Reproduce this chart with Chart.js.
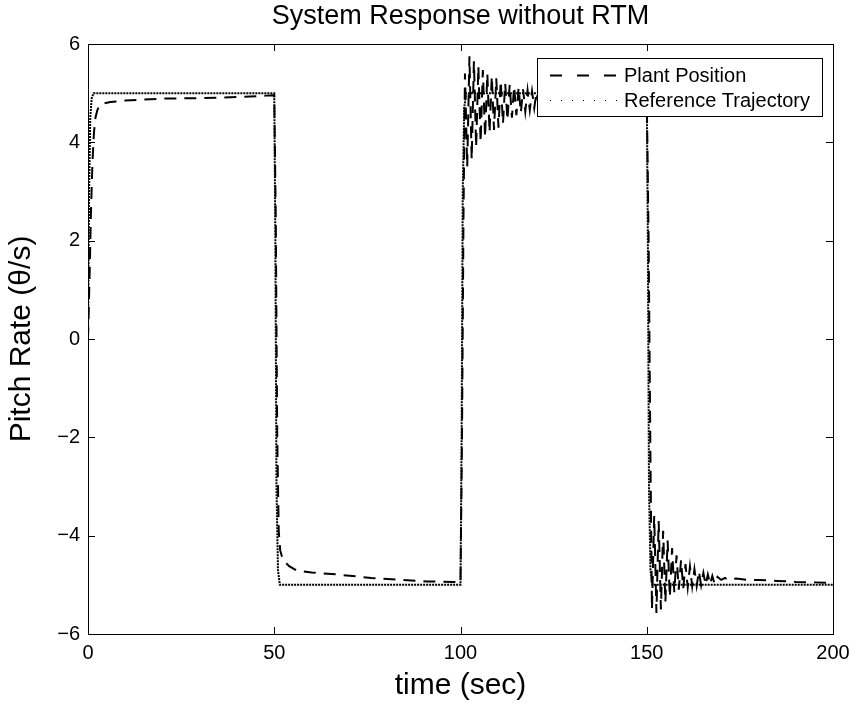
<!DOCTYPE html>
<html>
<head>
<meta charset="utf-8">
<script src="https://cdn.jsdelivr.net/npm/chart.js@4.4.1/dist/chart.umd.min.js"></script>
<style>
html,body{margin:0;padding:0;background:#fff;}
#wrap{width:857px;height:708px;}
</style>
</head>
<body>
<div id="wrap"><canvas id="c" width="857" height="708"></canvas></div>
<script>
// ---- data ----
const titleText = 'System Response without RTM';
const xTitle = 'time (sec)';
const yTitle = 'Pitch Rate (\u03b8/s)';
const seriesNames = ['Plant Position', 'Reference Trajectory'];
const xTicks = [0, 50, 100, 150, 200];
const yTicks = [-6, -4, -2, 0, 2, 4, 6];
const yTickLabels = ['\u22126', '\u22124', '\u22122', '0', '2', '4', '6'];

// Plant Position (time, value)
const plantT = [
  0, 0.4, 0.8, 1.2, 1.6, 2, 2.5, 3, 4, 6, 10, 15, 20, 30, 40, 48, 50,
  50.4, 50.8, 51.2, 51.6, 52.3, 54, 56, 60, 67, 76, 84, 91, 98, 100,
  100.4, 100.8, 101.2, 101.8, 102.4, 103.0, 103.6, 104.2, 104.8, 105.4, 106.0, 106.6,
  107.2, 107.8, 108.4, 109.0, 109.6, 110.2, 110.8, 111.4, 112.0, 112.6, 113.2, 113.8,
  114.4, 115.0, 115.6, 116.2, 116.8, 117.4, 118.0, 118.6, 119.2, 119.8, 120.4, 121.0,
  121.6, 122.2, 123, 124, 126, 130, 140, 150,
  150.5, 151.0, 151.4, 152.0, 152.6, 153.2, 153.8, 154.4, 155.0, 155.6, 156.2, 156.8,
  157.4, 158.0, 158.6, 159.2, 159.8, 160.4, 161.0, 161.6, 162.2, 162.8, 163.4, 164.0,
  164.6, 165.2, 165.8, 166.4, 167.0, 167.6, 168.2, 169, 170, 171, 172, 174, 177, 180,
  185, 190, 195, 200
];
const plantY = [
  0, 1.2, 2.6, 3.6, 4.2, 4.5, 4.65, 4.74, 4.79, 4.82, 4.85, 4.87, 4.89, 4.9, 4.92, 4.95, 4.96,
  2.5, -2.0, -3.9, -4.3, -4.49, -4.62, -4.71, -4.75, -4.79, -4.86, -4.9, -4.93, -4.94, -4.95,
  -2.0, 2.5, 5.4, 3.5, 5.75, 3.65, 5.65, 3.9, 5.55, 4.0, 5.47, 4.1,
  5.4, 4.2, 5.35, 4.25, 5.3, 4.3, 5.25, 4.38, 5.2, 4.45, 5.17, 4.5,
  5.14, 4.55, 5.11, 4.6, 5.08, 4.63, 5.06, 4.66, 5.04, 4.7, 5.02, 4.75,
  5.0, 4.8, 4.95, 4.85, 4.92, 4.9, 4.93, 4.95,
  2.0, -2.5, -5.5, -3.6, -5.57, -3.7, -5.5, -3.9, -5.35, -4.1, -5.25, -4.25,
  -5.15, -4.4, -5.1, -4.5, -5.07, -4.58, -5.05, -4.63, -5.03, -4.68, -5.02, -4.72,
  -5.01, -4.76, -5.0, -4.79, -4.99, -4.82, -4.98, -4.84, -4.9, -4.86, -4.9, -4.87, -4.9, -4.9,
  -4.92, -4.94, -4.95, -4.96
];

// Reference Trajectory (time, value)
const refT = [0, 0.3, 0.6, 1.0, 1.5, 50, 50.3, 50.6, 51.0, 51.5, 100, 100.3, 100.6, 101.0, 101.5,
  150, 150.3, 150.6, 151.0, 151.5, 200];
const refY = [0, 3.0, 4.5, 4.9, 5.0, 5.0, 2.0, -3.0, -4.7, -5.0, -5.0, -2.0, 3.0, 4.7, 5.0,
  5.0, 2.0, -3.0, -4.7, -5.0, -5.0];

const toXY = (ts, ys) => ts.map((t, i) => ({x: t, y: ys[i]}));

const FONT = '"Liberation Sans", Arial, sans-serif';

// ---- title, frame, inward ticks and legend ----
const framePlugin = {
  id: 'frame',
  afterDatasetsDraw(chart) {
    const ctx = chart.ctx;
    const a = chart.chartArea;
    const xs = chart.scales.x, ys = chart.scales.y;
    const tl = 7;
    ctx.save();
    ctx.strokeStyle = '#000';
    ctx.lineWidth = 1;
    ctx.setLineDash([]);
    ctx.beginPath();
    xTicks.forEach(v => {
      const p = Math.round(xs.getPixelForValue(v)) + 0.5;
      ctx.moveTo(p, a.bottom); ctx.lineTo(p, a.bottom - tl);
      ctx.moveTo(p, a.top); ctx.lineTo(p, a.top + tl);
    });
    yTicks.forEach(v => {
      const p = Math.round(ys.getPixelForValue(v)) + 0.5;
      ctx.moveTo(a.left, p); ctx.lineTo(a.left + tl, p);
      ctx.moveTo(a.right, p); ctx.lineTo(a.right - tl, p);
    });
    ctx.stroke();
    ctx.strokeRect(Math.round(a.left) + 0.5, Math.round(a.top) + 0.5,
      Math.round(a.right - a.left), Math.round(a.bottom - a.top));

    // title centred over the plot area
    ctx.fillStyle = '#000';
    ctx.font = '27px ' + FONT;
    ctx.textAlign = 'center';
    ctx.textBaseline = 'middle';
    ctx.fillText(titleText, (a.left + a.right) / 2, 17);

    // legend box
    const bx = 537, by = 58, bw = 285, bh = 58;
    ctx.fillStyle = '#fff';
    ctx.fillRect(bx, by, bw, bh);
    ctx.strokeRect(bx + 0.5, by + 0.5, bw, bh);
    const rows = [75, 100];
    ctx.lineWidth = 2;
    ctx.setLineDash([12, 15]);
    ctx.beginPath(); ctx.moveTo(550, rows[0] + 0.5); ctx.lineTo(617, rows[0] + 0.5); ctx.stroke();
    ctx.lineWidth = 1;
    ctx.setLineDash([1, 10]);
    ctx.beginPath(); ctx.moveTo(550, rows[1] + 0.5); ctx.lineTo(617, rows[1] + 0.5); ctx.stroke();
    ctx.setLineDash([]);
    ctx.fillStyle = '#000';
    ctx.font = '20px ' + FONT;
    ctx.textAlign = 'left';
    ctx.textBaseline = 'middle';
    ctx.fillText(seriesNames[0], 624, rows[0] + 1);
    ctx.fillText(seriesNames[1], 624, rows[1] + 1);
    ctx.restore();
  }
};

new Chart(document.getElementById('c'), {
  type: 'line',
  data: {
    datasets: [
      {
        label: seriesNames[0],
        data: toXY(plantT, plantY),
        borderColor: '#000',
        borderWidth: 2,
        borderDash: [12, 8],
        pointRadius: 0,
        tension: 0,
        fill: false
      },
      {
        label: seriesNames[1],
        data: toXY(refT, refY),
        borderColor: '#000',
        borderWidth: 2,
        borderDash: [2, 1],
        pointRadius: 0,
        tension: 0,
        fill: false
      }
    ]
  },
  options: {
    responsive: false,
    animation: false,
    devicePixelRatio: 1,
    layout: {padding: {left: 0, right: 24, top: 44, bottom: 0}},
    plugins: {
      legend: {display: false},
      tooltip: {enabled: false},
      title: {display: false}
    },
    scales: {
      x: {
        type: 'linear',
        min: 0, max: 200,
        afterBuildTicks: s => { s.ticks = xTicks.map(v => ({value: v})); },
        afterFit: s => { s.height = 74; },
        grid: {display: false, drawTicks: false},
        border: {display: false},
        ticks: {color: '#000', font: {family: FONT, size: 20}, padding: 7, maxRotation: 0},
        title: {display: true, text: xTitle, color: '#000', font: {family: FONT, size: 30}, padding: {top: 0, bottom: 4}}
      },
      y: {
        type: 'linear',
        min: -6, max: 6,
        afterBuildTicks: s => { s.ticks = yTicks.map(v => ({value: v})); },
        afterFit: s => { s.width = 88; },
        grid: {display: false, drawTicks: false},
        border: {display: false},
        ticks: {
          color: '#000', font: {family: FONT, size: 20}, padding: 8,
          callback: v => yTickLabels[yTicks.indexOf(v)]
        },
        title: {display: true, text: yTitle, color: '#000', font: {family: FONT, size: 30}, padding: {top: 4, bottom: 0}}
      }
    }
  },
  plugins: [framePlugin]
});
</script>
</body>
</html>
